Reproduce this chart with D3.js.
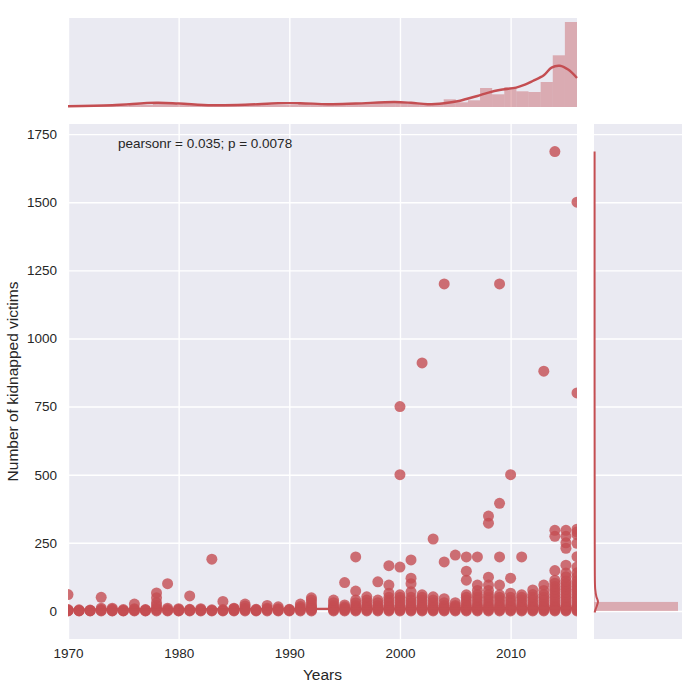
<!DOCTYPE html>
<html><head><meta charset="utf-8">
<script src="https://cdn.jsdelivr.net/npm/d3@7/dist/d3.min.js"></script>
<style>body{margin:0;background:#fff}svg{display:block;font-family:"Liberation Sans",Arial,sans-serif}</style>
</head><body><svg id="c" width="700" height="700"></svg>
<script>
// ---------- data ----------
const years = [1970,1971,1972,1973,1974,1975,1976,1977,1978,1979,1980,1981,1982,1983,1984,1985,1986,1987,1988,1989,1990,1991,1992,
  1994,1995,1996,1997,1998,1999,2000,2001,2002,2003,2004,2005,2006,2007,2008,2009,2010,2011,2012,2013,2014,2015,2016];
const victims = [
  [0,1,2,3,5,60],[0,1,2,4],[0,1,2,3],[0,2,5,10,50],[0,1,3,6,10],[0,1,2,5],[0,2,5,8,25],[0,1,3,5],
  [0,3,6,10,20,30,48,66],[0,2,5,10,100],[0,1,3,5,8],[0,2,4,6,55],[0,2,5,8],[0,2,4,190],[0,2,5,35],
  [0,2,5,8,10],[0,3,6,10,18,25],[0,2,4,6],[0,3,6,10,20],[0,2,5,8,15],[0,2,4,6],[0,3,6,10,16,25],
  [0,3,6,10,15,20,30,40,48],
  [0,3,6,10,15,20,30,40],
  [0,3,6,10,15,22,104],
  [0,3,6,10,15,20,30,40,73,198],
  [0,3,6,10,15,20,30,40,52],
  [0,3,6,10,15,20,30,40,107],
  [0,3,6,10,15,20,30,40,50,65,95,166],
  [0,3,6,10,15,20,30,40,50,59,161,500,750],
  [0,3,6,10,15,20,30,40,50,70,100,120,187],
  [0,3,6,10,15,20,30,40,50,59,910],
  [0,3,6,10,15,20,30,40,52,264],
  [0,3,6,10,15,20,30,45,180,1200],
  [0,3,6,10,15,20,30,205],
  [0,3,6,10,15,20,30,40,50,59,113,146,198],
  [0,3,6,10,15,20,30,40,50,60,75,95,198],
  [0,3,6,10,15,20,30,40,50,60,75,95,124,322,348],
  [0,3,6,10,15,20,30,40,50,59,95,198,395,1200],
  [0,3,6,10,15,20,30,40,50,65,120,500],
  [0,3,6,10,15,20,30,40,50,59,198],
  [0,3,6,10,15,20,30,40,50,60,77],
  [0,3,6,10,15,20,30,40,50,60,75,95,880],
  [0,3,6,10,15,20,30,40,50,60,70,80,90,102,113,148,274,296,1686],
  [0,3,6,10,15,20,30,40,50,60,70,80,90,100,110,125,139,168,230,250,274,296],
  [0,3,6,10,15,20,30,40,50,60,70,80,90,100,110,125,140,161,199,248,280,290,300,800,1500]
];
const regYears = [1970, 2016];
const regFit = [4.4, 10.8];
const regLow = [1.0, 9.0];
const regHigh = [7.8, 12.6];
const xTicks = [1970,1980,1990,2000,2010];
const yTicks = [0,250,500,750,1000,1250,1500,1750];
const statText = "pearsonr = 0.035; p = 0.0078";
const xLabel = "Years";
const yLabel = "Number of kidnapped victims";
// histogram of years (42 bins over 1970–2016), relative density
const yearHist = [1.5,1,1.5,1.5,1,2,2,4,3,2, 3,2,2,2,2.5,2,2,2,2,3,3, 2.5,3,3.5,3.5,4,4.5,5,4,3,3, 7.7,4.7,6.7,19,12.7,20,15.7,15,25,51.7,85];
const yearKdeX = [1970,1974,1978,1980,1983,1986,1989,1991,1993.5,1996,1999.5,2001,2002.5,2004,2005.2,2006,2007,2008,2009,2010.5,2011.3,2012,2013,2013.7,2014.45,2015.2,2016];
const yearKdeY = [0.8,1.8,4.2,3.5,1.8,2.2,3.8,3.8,2.8,3.5,5,4.2,2.8,3.8,5.7,8,11,14.4,17,19.4,22.4,26,31.7,39.4,41.2,37.4,29];
// histogram of victims (bin edges), relative density
const victimBinLo = [0, 33, 66];
const victimBinHi = [33, 66, 99];
const victimHist = [84, 0.6, 0.3];
const victimKdeV = [-6, 5, 20, 34, 52, 80, 150, 300, 800, 1686];
const victimKdeD = [0.6, 1.5, 3, 4, 2.4, 1.2, 0.8, 0.7, 0.6, 0.6];

// ---------- layout ----------
const col = "#c44e52", bg = "#EAEAF2", txt = "#262626";
const M = {l:68, r:577, t:124, b:639};
const TOP = {t:18, b:107};
const RIGHT = {l:594, r:682};
const svg = d3.select("#c");

const x = d3.scaleLinear().domain([1970, 2016]).range([M.l, M.r]);
const y = d3.scaleLinear().domain([-103, 1787]).range([M.b, M.t]);
const ty = d3.scaleLinear().domain([0, 89]).range([TOP.b, TOP.t]);
const rx = d3.scaleLinear().domain([0, 88]).range([RIGHT.l, RIGHT.r]);

// backgrounds
svg.append("rect").attr("x",M.l).attr("y",M.t).attr("width",M.r-M.l).attr("height",M.b-M.t).attr("fill",bg);
svg.append("rect").attr("x",M.l).attr("y",TOP.t).attr("width",M.r-M.l).attr("height",TOP.b-TOP.t).attr("fill",bg);
svg.append("rect").attr("x",RIGHT.l).attr("y",M.t).attr("width",RIGHT.r-RIGHT.l).attr("height",M.b-M.t).attr("fill",bg);

// gridlines via axes
function gridStyle(g){ g.select(".domain").remove(); g.selectAll("line").attr("stroke","#fff").attr("stroke-width",1.4); g.selectAll("text").remove(); }
svg.append("g").attr("transform",`translate(0,${M.b})`)
  .call(d3.axisBottom(x).tickValues(xTicks).tickSize(-(M.b-M.t)).tickFormat("")).call(gridStyle);
svg.append("g").attr("transform",`translate(${M.l},0)`)
  .call(d3.axisLeft(y).tickValues(yTicks).tickSize(-(M.r-M.l)).tickFormat("")).call(gridStyle);
svg.append("g").attr("transform",`translate(0,${TOP.b})`)
  .call(d3.axisBottom(x).tickValues(xTicks).tickSize(-(TOP.b-TOP.t)).tickFormat("")).call(gridStyle);
svg.append("g").attr("transform",`translate(${RIGHT.l},0)`)
  .call(d3.axisLeft(y).tickValues(yTicks).tickSize(-(RIGHT.r-RIGHT.l)).tickFormat("")).call(gridStyle);

// tick labels
const xa = svg.append("g").attr("transform",`translate(0,${M.b})`)
  .call(d3.axisBottom(x).tickValues(xTicks).tickSize(0).tickPadding(9).tickFormat(d3.format("d")));
xa.select(".domain").remove();
xa.selectAll("text").attr("font-size",13.5).attr("fill",txt).attr("font-family","Liberation Sans, Arial, sans-serif");
const ya = svg.append("g").attr("transform",`translate(${M.l},0)`)
  .call(d3.axisLeft(y).tickValues(yTicks).tickSize(0).tickPadding(11).tickFormat(d3.format("d")));
ya.select(".domain").remove();
ya.selectAll("text").attr("font-size",13.5).attr("fill",txt).attr("font-family","Liberation Sans, Arial, sans-serif");

// axis labels
svg.append("text").attr("x",(M.l+M.r)/2).attr("y",679.5).attr("text-anchor","middle")
  .attr("font-size",15.5).attr("fill",txt).text(xLabel);
svg.append("text").attr("transform",`translate(17.5,${(M.t+M.b)/2}) rotate(-90)`).attr("text-anchor","middle")
  .attr("font-size",15.5).attr("fill",txt).text(yLabel);

// main plot clip
svg.append("clipPath").attr("id","mclip").append("rect").attr("x",M.l).attr("y",M.t).attr("width",M.r-M.l).attr("height",M.b-M.t);
const mg = svg.append("g").attr("clip-path","url(#mclip)");

const pts = [];
years.forEach((yr,i)=>victims[i].forEach(v=>pts.push([yr,v])));
mg.selectAll("circle").data(pts).join("circle")
  .attr("cx",d=>x(d[0])).attr("cy",d=>y(d[1])).attr("r",5.5)
  .attr("fill",col).attr("fill-opacity",0.8);

// regression CI and line
const regData = regYears.map((yr,i)=>({yr, f:regFit[i], lo:regLow[i], hi:regHigh[i]}));
mg.append("path").datum(regData)
  .attr("d",d3.area().x(d=>x(d.yr)).y0(d=>y(d.lo)).y1(d=>y(d.hi)))
  .attr("fill",col).attr("fill-opacity",0.15);
mg.append("path").datum(regData)
  .attr("d",d3.line().x(d=>x(d.yr)).y(d=>y(d.f)))
  .attr("fill","none").attr("stroke",col).attr("stroke-width",2.4);

// stat annotation
svg.append("text").attr("x",118).attr("y",147.5).attr("font-size",13.5).attr("fill",txt).text(statText);

// top marginal histogram + kde
const nb = yearHist.length;
const bw = (x.domain()[1]-x.domain()[0])/nb;
svg.append("g").selectAll("rect").data(yearHist).join("rect")
  .attr("x",(d,i)=>x(1970+i*bw)).attr("width",(d,i)=>x(1970+(i+1)*bw)-x(1970+i*bw))
  .attr("y",d=>ty(d)).attr("height",d=>ty(0)-ty(d))
  .attr("fill",col).attr("fill-opacity",0.4);
svg.append("path").datum(yearKdeX.map((v,i)=>[v,yearKdeY[i]]))
  .attr("d",d3.line().x(d=>x(d[0])).y(d=>ty(d[1])).curve(d3.curveCatmullRom))
  .attr("fill","none").attr("stroke",col).attr("stroke-width",2.4);

// right marginal histogram + kde
svg.append("g").selectAll("rect").data(victimHist).join("rect")
  .attr("x",rx(0)).attr("width",d=>rx(d)-rx(0))
  .attr("y",(d,i)=>y(victimBinHi[i])).attr("height",(d,i)=>y(victimBinLo[i])-y(victimBinHi[i]))
  .attr("fill",col).attr("fill-opacity",0.4);
svg.append("path").datum(victimKdeV.map((v,i)=>[v,victimKdeD[i]]))
  .attr("d",d3.line().x(d=>rx(d[1])).y(d=>y(d[0])).curve(d3.curveCatmullRom))
  .attr("fill","none").attr("stroke",col).attr("stroke-width",2);
</script></body></html>
